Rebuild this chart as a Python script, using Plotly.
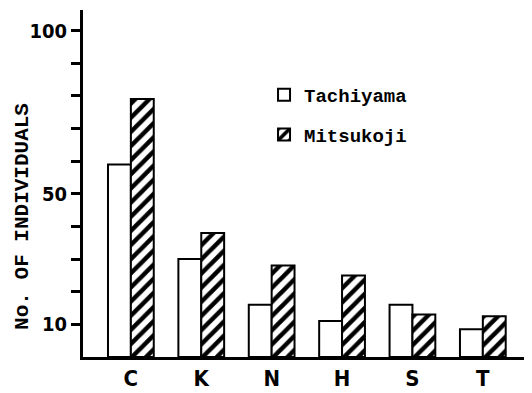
import plotly.graph_objects as go

categories = ["C", "K", "N", "H", "S", "T"]
tachiyama = [59, 30, 16, 11, 16, 8.5]
mitsukoji = [79, 38, 28, 25, 13, 12.5]
ytick_vals = [10, 20, 30, 40, 50, 60, 70, 80, 90, 100]
ytick_text = ["10", "", "", "", "50", "", "", "", "", "100"]

cond = "DejaVu Sans Condensed, Liberation Sans Narrow, DejaVu Sans, sans-serif"
mono = "Liberation Mono, Courier New, monospace"

fig = go.Figure()
fig.add_trace(go.Bar(
    x=categories, y=tachiyama, name="Tachiyama", legendgroup="a",
    marker=dict(color="white", line=dict(color="black", width=2)),
))
fig.add_trace(go.Bar(
    x=categories, y=mitsukoji, name="Mitsukoji", legendgroup="b",
    marker=dict(color="white", line=dict(color="black", width=2),
                pattern=dict(shape="/", fgcolor="black", bgcolor="white",
                             size=10, solidity=0.45, fgopacity=1)),
))

fig.update_layout(
    width=524, height=385,
    margin=dict(l=75, r=2, t=2, b=36),
    paper_bgcolor="white", plot_bgcolor="white",
    barmode="group", bargap=0.35, bargroupgap=0,
    showlegend=True,
    legend=dict(x=0.405, y=0.81, xanchor="left", yanchor="top",
                font=dict(family=mono, size=19, color="black", weight="bold"),
                tracegroupgap=12, traceorder="grouped",
                bgcolor="rgba(0,0,0,0)"),
    xaxis=dict(range=[-0.68, 5.67], showline=True, linecolor="black", linewidth=3,
               ticks="", showgrid=False, zeroline=False, automargin=False,
               tickfont=dict(family=cond, size=22, color="black", weight="bold")),
    yaxis=dict(range=[0, 106.3], showline=True, linecolor="black", linewidth=3,
               tickvals=ytick_vals, ticktext=ytick_text, automargin=False,
               ticks="outside", ticklen=9, tickwidth=3, tickcolor="black",
               showgrid=False, zeroline=False,
               tickfont=dict(family=cond, size=20, color="black", weight="bold")),
    annotations=[dict(text="No. OF INDIVIDUALS", textangle=-90,
                      xref="paper", yref="paper", x=-0.137, y=0.406,
                      xanchor="center", yanchor="middle", showarrow=False,
                      font=dict(family=mono, size=21,
                                color="black", weight="bold"))],
)

fig.write_html("out.html")
